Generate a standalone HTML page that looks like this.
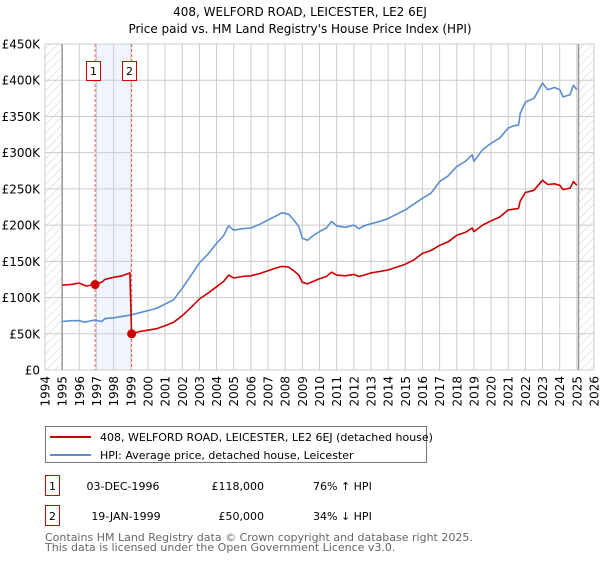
<!DOCTYPE html>
<html><head><meta charset="utf-8"><style>
body{margin:0;background:#fff;width:600px;height:560px;overflow:hidden;font-family:"DejaVu Sans","Liberation Sans",sans-serif;}
svg text{font-family:"DejaVu Sans","Liberation Sans",sans-serif;}
</style></head><body>
<svg id="chart" width="600" height="560" xmlns="http://www.w3.org/2000/svg">
<defs>
<pattern id="hatch" width="6" height="6" patternUnits="userSpaceOnUse" patternTransform="rotate(45)">
<line x1="0" y1="0" x2="0" y2="6" stroke="#ccc" stroke-width="1"/>
</pattern>
</defs>
<text x="300" y="16" text-anchor="middle" font-size="12">408, WELFORD ROAD, LEICESTER, LE2 6EJ</text>
<text x="300" y="33" text-anchor="middle" font-size="12">Price paid vs. HM Land Registry's House Price Index (HPI)</text>
<g id="plot"></g>
<g>
<rect x="45.5" y="426.5" width="381" height="36" fill="#fff" stroke="#777"/>
<line x1="50" y1="437" x2="91" y2="437" stroke="#cc0000" stroke-width="2"/>
<text x="100" y="441" font-size="11">408, WELFORD ROAD, LEICESTER, LE2 6EJ (detached house)</text>
<line x1="50" y1="455" x2="91" y2="455" stroke="#5b8dd0" stroke-width="2"/>
<text x="100" y="459" font-size="11">HPI: Average price, detached house, Leicester</text>
</g>
<g font-size="11">
<rect x="45.5" y="475.5" width="14" height="20" fill="#fff" stroke="#cc0000"/>
<text x="52.5" y="490" text-anchor="middle">1</text>
<text x="123" y="490" text-anchor="middle">03-DEC-1996</text>
<text x="264" y="490" text-anchor="end">£118,000</text>
<text x="313" y="490">76% ↑ HPI</text>
<rect x="45.5" y="505.5" width="14" height="20" fill="#fff" stroke="#cc0000"/>
<text x="52.5" y="520" text-anchor="middle">2</text>
<text x="126" y="520" text-anchor="middle">19-JAN-1999</text>
<text x="264" y="520" text-anchor="end">£50,000</text>
<text x="313" y="520">34% ↓ HPI</text>
</g>
<text x="45" y="541" font-size="11" fill="#666">Contains HM Land Registry data © Crown copyright and database right 2025.</text>
<text x="45" y="551" font-size="11" fill="#666">This data is licensed under the Open Government Licence v3.0.</text>
</svg>
<script>
const yTicks=[0,50,100,150,200,250,300,350,400,450];
const yTickLabels=["£0","£50K","£100K","£150K","£200K","£250K","£300K","£350K","£400K","£450K"];
const xTicks=[1994,1995,1996,1997,1998,1999,2000,2001,2002,2003,2004,2005,2006,2007,2008,2009,2010,2011,2012,2013,2014,2015,2016,2017,2018,2019,2020,2021,2022,2023,2024,2025,2026];
const hpiDates=[1995,1995.5,1996,1996.3,1996.9,1997.3,1997.5,1998,1998.5,1999,1999.5,2000,2000.5,2001,2001.5,2002,2002.5,2003,2003.5,2004,2004.4,2004.7,2005,2005.5,2006,2006.5,2007,2007.5,2007.8,2008.2,2008.5,2008.8,2009,2009.3,2009.6,2010,2010.4,2010.7,2011,2011.5,2012,2012.3,2012.6,2013,2013.5,2014,2014.5,2015,2015.5,2016,2016.5,2017,2017.5,2018,2018.5,2018.9,2019,2019.5,2020,2020.5,2021,2021.3,2021.6,2021.7,2022,2022.5,2023,2023.3,2023.7,2024,2024.2,2024.6,2024.8,2025];
const hpiValues=[67,68,68,66,69,67,71,72,74,76,79,82,85,91,97,113,130,148,160,175,185,199,193,195,196,201,207,213,217,215,207,198,182,179,185,191,196,205,199,197,200,195,199,202,205,209,215,221,229,237,244,260,268,281,288,297,288,304,313,320,334,337,338,354,370,375,396,387,390,387,377,380,393,387];
const propDates=[1995,1995.5,1996,1996.4,1996.9,1997.3,1997.5,1998,1998.5,1998.95,1999.05,1999.5,2000,2000.5,2001,2001.5,2002,2002.5,2003,2003.5,2004,2004.4,2004.7,2005,2005.5,2006,2006.5,2007,2007.5,2007.8,2008.2,2008.5,2008.8,2009,2009.3,2009.6,2010,2010.4,2010.7,2011,2011.5,2012,2012.3,2012.6,2013,2013.5,2014,2014.5,2015,2015.5,2016,2016.5,2017,2017.5,2018,2018.5,2018.9,2019,2019.5,2020,2020.5,2021,2021.3,2021.6,2021.7,2022,2022.5,2023,2023.3,2023.7,2024,2024.2,2024.6,2024.8,2025];
const propValues=[117,118,120,116,118,121,125,128,130,134,50,53,55,57,61,66,75,86,98,106,115,122,131,127,129,130,133,137,141,143,142,137,131,121,119,122,126,129,135,131,130,132,129,131,134,136,138,142,146,152,161,165,172,177,186,190,196,191,200,206,211,221,222,223,233,245,248,262,256,257,255,249,251,260,255];
const saleDates=[1996.92,1999.05];
const saleValues=[118,50];

const NS="http://www.w3.org/2000/svg";
const plot=document.getElementById('plot');
const L=45,R=594,T=44,B=370,x0=1994,x1=2026,yMax=450;
function xs(v){return L+(v-x0)/(x1-x0)*(R-L);}
function ys(v){return B-v/yMax*(B-T);}
function mk(tag,attrs){const e=document.createElementNS(NS,tag);for(const k in attrs)e.setAttribute(k,attrs[k]);plot.appendChild(e);return e;}

const bg=mk('rect',{x:L,y:T,width:R-L,height:B-T,fill:'#fff'});


const band=mk('rect',{x:xs(saleDates[0]),y:T,width:xs(saleDates[1])-xs(saleDates[0]),height:B-T,fill:'#f0f4fc'});


yTicks.forEach((v,i)=>{
  const g=mk('line',{x1:L,x2:R,y1:ys(v),y2:ys(v),stroke:'#ccc','stroke-width':1});
  
  
  const t=mk('text',{x:40,y:ys(v)+4.5,'text-anchor':'end','font-size':12});
  t.textContent=yTickLabels[i];
  
  
});
xTicks.forEach(v=>{
  const g=mk('line',{x1:xs(v),x2:xs(v),y1:T,y2:B,stroke:'#ccc','stroke-width':1});
  
  
  const t=mk('text',{x:0,y:0,'text-anchor':'end','font-size':12,transform:`translate(${xs(v)+4.5},376) rotate(-90)`});
  t.textContent=String(v);
  
  
});
const h1=mk('rect',{x:L,y:T,width:xs(1995)-L,height:B-T,fill:'url(#hatch)'});


const h2=mk('rect',{x:xs(2025.1),y:T,width:R-xs(2025.1),height:B-T,fill:'url(#hatch)'});


const v1=mk('line',{x1:xs(1995),x2:xs(1995),y1:T,y2:B,stroke:'#999','stroke-width':1.5});


const v2=mk('line',{x1:xs(2025.1),x2:xs(2025.1),y1:T,y2:B,stroke:'#999','stroke-width':1.5});


const boxOffsets=[-9,-10];
saleDates.forEach((d,i)=>{
  const l=mk('line',{x1:xs(d),x2:xs(d),y1:T,y2:B,stroke:'#e06060','stroke-width':1,'stroke-dasharray':'3,2'});
  
  
  const bx=Math.round(xs(d)+boxOffsets[i])+0.5;
  const r=mk('rect',{x:bx,y:61.5,width:14,height:19,fill:'#fff',stroke:'#cc0000'});
  
  
  const t=mk('text',{x:bx+7,y:75,'text-anchor':'middle','font-size':11});
  t.textContent=String(i+1);
  
  
});
function path(ds,vs){return ds.map((d,i)=>(i?'L':'M')+xs(d).toFixed(1)+','+ys(vs[i]).toFixed(1)).join(' ');}
const hp=mk('path',{d:path(hpiDates,hpiValues),fill:'none',stroke:'#5b8dd0','stroke-width':1.6,'stroke-linejoin':'round'});


const pp=mk('path',{d:path(propDates,propValues),fill:'none',stroke:'#cc0000','stroke-width':1.6,'stroke-linejoin':'round'});


saleDates.forEach((d,i)=>{
  const c=mk('circle',{cx:xs(d),cy:ys(saleValues[i]),r:4.5,fill:'#cc0000'});
  
  
});
</script>
</body></html>
